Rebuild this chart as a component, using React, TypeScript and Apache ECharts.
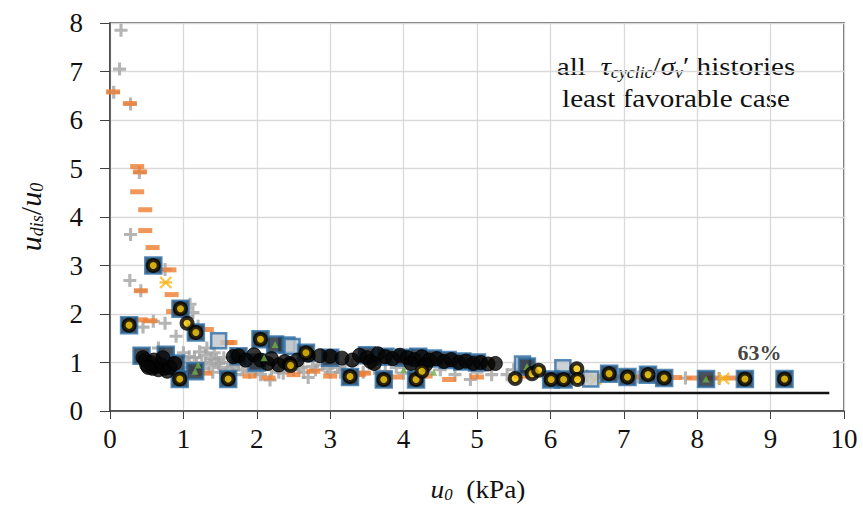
import React, { useEffect, useRef } from "react";
import * as echarts from "echarts";

const xTicks = [0, 1, 2, 3, 4, 5, 6, 7, 8, 9, 10];
const yTicks = [0, 1, 2, 3, 4, 5, 6, 7, 8];

const grayCross: number[][] = [
  [0.15, 7.85], [0.13, 7.05], [0.05, 6.57], [0.28, 6.33], [0.4, 4.92], [0.28, 3.64],
  [0.75, 2.92], [0.27, 2.69], [0.42, 2.48], [1.09, 2.2], [1.13, 2.03], [0.45, 1.73],
  [0.59, 1.85], [0.75, 1.81], [0.9, 1.54], [0.66, 1.3], [1.2, 1.75], [1.05, 1.95],
  [1.0, 1.2], [1.05, 1.0], [1.1, 0.9], [1.15, 1.1], [1.2, 0.85], [1.25, 1.0], [1.3, 1.15],
  [1.35, 0.95], [1.4, 0.8], [1.45, 1.05], [1.5, 0.9], [1.55, 1.1], [1.6, 0.85], [1.65, 1.0],
  [1.7, 0.75], [1.75, 0.95], [1.8, 0.85], [1.85, 1.05], [1.9, 0.8], [1.95, 0.95], [2.0, 0.9],
  [2.05, 0.75], [2.1, 1.05], [2.18, 0.64], [2.2, 0.85], [2.3, 0.8], [2.4, 0.95], [2.5, 0.85],
  [2.6, 0.9], [2.7, 0.69], [2.8, 0.85], [2.9, 0.95], [3.0, 0.8], [3.1, 0.9], [3.2, 0.85],
  [3.3, 0.95], [3.45, 0.8], [3.6, 0.88], [3.75, 0.82], [3.9, 0.9], [4.0, 0.78], [4.1, 0.88],
  [4.3, 0.8], [4.5, 0.85], [4.7, 0.75], [4.91, 0.65], [5.0, 0.8], [5.2, 0.75], [5.41, 0.75],
  [5.5, 0.85], [5.9, 0.8], [6.1, 0.75], [6.3, 0.78], [6.5, 0.72], [6.7, 0.73], [7.0, 0.72],
  [7.2, 0.7], [7.45, 0.7], [7.84, 0.68], [8.3, 0.67], [8.6, 0.66],
  [1.08, 1.12], [1.18, 0.98], [1.28, 0.88], [1.38, 1.08], [1.48, 0.98], [1.58, 0.76],
  [1.68, 0.92], [1.78, 1.08], [1.88, 0.92], [1.98, 0.82], [2.08, 0.92], [2.28, 0.9],
  [2.36, 0.78], [2.56, 0.95], [2.64, 0.8], [2.76, 0.92], [2.96, 0.88], [3.14, 0.8],
  [1.22, 1.22], [1.42, 1.2], [1.32, 1.3],
];

const orangeDash: number[][] = [
  [0.04, 6.58], [0.27, 6.34], [0.37, 5.04], [0.41, 4.93], [0.37, 4.52], [0.48, 4.15],
  [0.48, 3.72], [0.58, 3.37], [0.81, 2.91], [0.42, 2.48], [0.84, 2.4], [0.86, 2.05],
  [0.55, 1.86], [0.42, 1.88], [1.32, 1.68], [1.6, 1.41], [1.64, 1.41], [2.16, 0.68],
  [2.77, 0.82], [3.39, 0.75], [3.46, 0.78], [4.62, 0.65], [1.3, 0.78], [1.9, 0.72],
  [2.5, 0.75], [3.0, 0.72], [3.9, 0.7], [4.3, 0.72], [5.0, 0.7], [5.6, 0.72], [6.0, 0.72],
  [6.4, 0.7], [6.75, 0.71], [6.95, 0.7], [7.2, 0.7], [7.45, 0.69], [7.7, 0.69], [7.95, 0.68],
  [8.2, 0.68], [8.45, 0.68],
];

const yellowStar: number[][] = [[0.76, 2.65], [8.36, 0.67], [5.15, 0.98], [6.62, 0.66]];

const darkSquares: number[][] = [
  [0.59, 3.0], [0.96, 2.11], [1.17, 1.62], [0.26, 1.77], [0.43, 1.14], [0.76, 1.16],
  [0.9, 0.98], [0.95, 0.66], [1.16, 0.82], [1.61, 0.66], [2.05, 1.48], [2.25, 1.37],
  [2.67, 1.2], [3.27, 0.7], [3.73, 0.65], [4.17, 0.65], [5.68, 0.92], [6.01, 0.65],
  [6.18, 0.65], [6.8, 0.77], [7.05, 0.7], [7.33, 0.75], [7.55, 0.68], [8.12, 0.66],
  [8.65, 0.66], [9.19, 0.66], [1.75, 1.13], [3.75, 1.12], [4.0, 1.1], [4.2, 1.12],
  [4.4, 1.08], [4.6, 1.05], [4.8, 1.02], [5.0, 1.0], [2.0, 1.0], [3.0, 1.1], [3.5, 1.15],
];

const lightSquares: number[][] = [
  [1.48, 1.45], [2.41, 1.36], [2.48, 1.33], [5.62, 0.97], [6.17, 0.89], [6.55, 0.66],
];

const yellowCircles: number[][] = [
  [0.59, 3.0], [0.96, 2.11], [1.05, 1.81], [1.17, 1.62], [0.26, 1.77], [0.95, 0.66],
  [1.61, 0.66], [2.05, 1.48], [2.67, 1.2], [2.46, 0.94], [3.27, 0.71], [3.73, 0.65],
  [4.17, 0.65], [4.25, 0.82], [5.52, 0.67], [5.75, 0.77], [5.84, 0.84], [6.01, 0.65],
  [6.18, 0.65], [6.36, 0.87], [6.37, 0.65], [6.8, 0.77], [7.05, 0.7], [7.33, 0.75],
  [7.55, 0.68], [8.65, 0.66], [9.19, 0.66],
];

const blackCircles: number[][] = [
  [0.45, 1.1], [0.5, 0.95], [0.55, 1.0], [0.58, 0.88], [0.62, 0.92], [0.66, 0.85],
  [0.7, 0.95], [0.74, 0.88], [0.78, 0.82], [0.82, 0.9], [0.88, 0.98], [0.48, 1.05],
  [0.6, 1.05], [0.72, 1.1], [0.52, 0.9],
  [1.68, 1.12], [1.75, 1.14], [1.85, 1.05], [1.96, 1.16], [2.05, 1.05], [2.15, 0.98],
  [2.2, 1.08], [2.3, 0.95], [2.38, 1.02], [2.45, 0.98], [2.55, 1.05], [2.7, 1.15],
  [2.86, 1.14], [3.0, 1.13], [3.16, 1.09], [3.3, 1.05], [3.4, 1.15], [3.5, 1.1],
  [3.55, 1.02], [3.65, 1.18], [3.75, 1.12], [3.85, 1.08], [3.95, 1.15], [4.05, 1.1],
  [4.15, 1.06], [4.25, 1.12], [4.35, 1.05], [4.45, 1.08], [4.55, 1.02], [4.65, 1.06],
  [4.75, 1.0], [4.85, 1.03], [4.95, 0.98], [5.05, 1.0], [5.15, 0.97], [5.25, 0.98],
  [3.6, 0.98], [4.1, 0.98], [4.3, 0.95],
];

const greenMarks: number[][] = [
  [1.16, 0.82], [2.25, 1.37], [4.41, 0.8], [7.33, 0.75], [8.12, 0.66], [1.2, 0.95],
  [2.1, 1.1], [4.0, 0.85], [5.68, 0.92],
];

const limitLineX = [3.93, 9.8];
const limitLineY = 0.37;
const limitLabel = "63%";
const limitLabelPos = [8.85, 1.2];

const SERIF = "Liberation Serif";

export default function App() {
  const ref = useRef<HTMLDivElement>(null);
  useEffect(() => {
    if (!ref.current) return;
    const chart = echarts.init(ref.current, undefined, { renderer: "svg" });
    const plus = "path://M3.8,0H6.2V3.8H10V6.2H6.2V10H3.8V6.2H0V3.8H3.8Z";
    const star =
      "path://M0,1L1,0L10,9L9,10Z M9,0L10,1L1,10L0,9Z M0,4.3H10V5.7H0Z";
    chart.setOption({
      animation: false,
      backgroundColor: "#fff",
      textStyle: { fontFamily: SERIF },
      grid: {
        left: 110, right: 19, top: 23, bottom: 96,
        show: true, borderColor: "#404040", borderWidth: 1.5,
      },
      xAxis: {
        type: "value", min: 0, max: 10, interval: 1,
        axisLine: { show: true, lineStyle: { color: "#404040", width: 1.5 } },
        axisTick: { show: true, length: 8, lineStyle: { color: "#404040" } },
        splitLine: { show: true, lineStyle: { color: "#d9d9d9", width: 1.3 } },
        axisLabel: {
          fontFamily: SERIF, fontSize: 27, color: "#111", margin: 14,
          formatter: (v: number) => (xTicks.includes(v) ? String(v) : ""),
        },
      },
      yAxis: {
        type: "value", min: 0, max: 8, interval: 1,
        axisLine: { show: true, lineStyle: { color: "#404040", width: 1.5 } },
        axisTick: { show: true, length: 10, lineStyle: { color: "#404040" } },
        splitLine: { show: true, lineStyle: { color: "#d9d9d9", width: 1.3 } },
        axisLabel: {
          fontFamily: SERIF, fontSize: 27, color: "#111", margin: 27,
          formatter: (v: number) => (yTicks.includes(v) ? String(v) : ""),
        },
      },
      graphic: [
        {
          type: "text", x: 676, y: 66, scaleX: 1.12,
          style: {
            text: "{n|all  }{i|τ}{s|cyclic}{n|/}{i|σ}{s|v}{n|′ histories}",
            align: "center", verticalAlign: "middle",
            rich: {
              n: { fontFamily: SERIF, fontSize: 26, fill: "#111", lineHeight: 30 },
              i: { fontFamily: SERIF, fontSize: 26, fontStyle: "italic", fill: "#111", lineHeight: 30 },
              s: { fontFamily: SERIF, fontSize: 16, fontStyle: "italic", fill: "#111", lineHeight: 30, padding: [14, 0, 0, 0] },
            },
          },
        },
        {
          type: "text", x: 676, y: 98, scaleX: 1.12,
          style: {
            text: "least favorable case", align: "center", verticalAlign: "middle",
            fontFamily: SERIF, fontSize: 26, fill: "#111",
          },
        },
        {
          type: "text", x: 478, y: 489, scaleX: 1.05,
          style: {
            text: "{i|u}{s|0}{n|  (kPa)}", align: "center", verticalAlign: "middle",
            rich: {
              n: { fontFamily: SERIF, fontSize: 26, fill: "#111", lineHeight: 30 },
              i: { fontFamily: SERIF, fontSize: 26, fontStyle: "italic", fill: "#111", lineHeight: 30 },
              s: { fontFamily: SERIF, fontSize: 16, fontStyle: "italic", fill: "#111", lineHeight: 30, padding: [12, 0, 0, 0] },
            },
          },
        },
        {
          type: "text", x: 30, y: 217, rotation: Math.PI / 2,
          style: {
            text: "{i|u}{s|dis}{n|/}{i|u}{s|0}", align: "center", verticalAlign: "middle",
            rich: {
              n: { fontFamily: SERIF, fontSize: 30, fill: "#111", lineHeight: 34 },
              i: { fontFamily: SERIF, fontSize: 30, fontStyle: "italic", fill: "#111", lineHeight: 34 },
              s: { fontFamily: SERIF, fontSize: 18, fontStyle: "italic", fill: "#111", lineHeight: 34, padding: [14, 0, 0, 0] },
            },
          },
        },
      ],
      series: [
        {
          type: "line", data: limitLineX.map((x) => [x, limitLineY]),
          symbol: "none", lineStyle: { color: "#111", width: 2.5 }, z: 1,
        },
        {
          type: "scatter", data: grayCross, symbol: plus, symbolSize: 13,
          itemStyle: { color: "#a3a3a3" }, z: 2,
        },
        {
          type: "scatter", data: orangeDash, symbol: "rect", symbolSize: [14, 5],
          itemStyle: { color: "#ed7d31" }, z: 3,
        },
        {
          type: "scatter", data: yellowStar, symbol: star, symbolSize: 12,
          itemStyle: { color: "#ffc000", borderColor: "#f4a020", borderWidth: 0.5 }, z: 4,
        },
        {
          type: "scatter", data: lightSquares, symbol: "rect", symbolSize: 15,
          itemStyle: { color: "#bfc5cc", borderColor: "#2e6da4", borderWidth: 2.5 }, z: 5,
        },
        {
          type: "scatter", data: darkSquares, symbol: "rect", symbolSize: 16,
          itemStyle: { color: "#1a2430", borderColor: "#2e6da4", borderWidth: 2.5 }, z: 5,
        },
        {
          type: "scatter", data: blackCircles, symbol: "circle", symbolSize: 14,
          itemStyle: { color: "#050505", borderColor: "#000", borderWidth: 1 }, z: 6,
        },
        {
          type: "scatter", data: greenMarks, symbol: "triangle", symbolSize: 7,
          itemStyle: { color: "#70ad47" }, z: 7,
        },
        {
          type: "scatter", data: yellowCircles, symbol: "circle", symbolSize: 11,
          itemStyle: { color: "#f5c400", borderColor: "#000", borderWidth: 4 }, z: 8,
        },
        {
          type: "scatter", data: [limitLabelPos], symbolSize: 0, z: 9,
          label: {
            show: true, position: "inside", formatter: limitLabel,
            fontFamily: SERIF, fontSize: 22, fontWeight: "bold", color: "#111",
          },
        },
      ],
    });
    return () => chart.dispose();
  }, []);
  return <div ref={ref} style={{ width: 863, height: 507, position: "absolute", left: 0, top: 0 }} />;
}
